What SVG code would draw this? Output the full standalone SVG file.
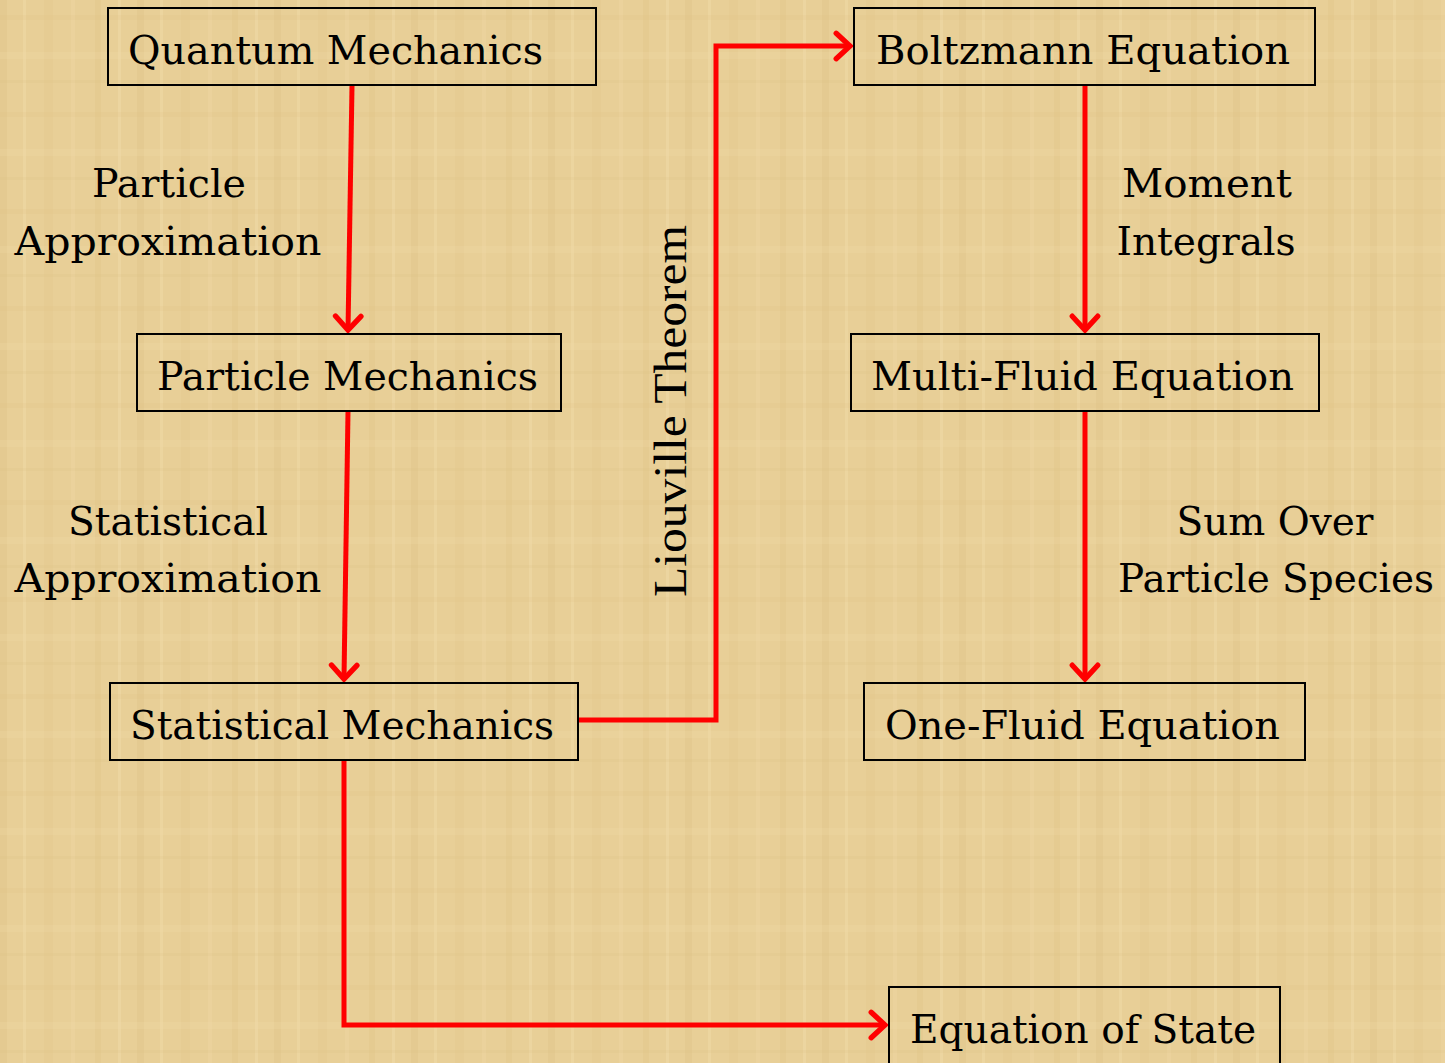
<svg xmlns="http://www.w3.org/2000/svg" width="1445" height="1063" viewBox="0 0 1445 1063">
<defs>
<pattern id="papyrus" width="137" height="97" patternUnits="userSpaceOnUse">
<rect width="137" height="97" fill="#E8CF97"/>
<rect x="0" y="0" width="7" height="97" fill="#D9BC80" opacity="0.25"/>
<rect x="23" y="0" width="3" height="97" fill="#F3DEAE" opacity="0.35"/>
<rect x="44" y="0" width="9" height="97" fill="#DCC083" opacity="0.2"/>
<rect x="71" y="0" width="4" height="97" fill="#F2DCAA" opacity="0.3"/>
<rect x="95" y="0" width="6" height="97" fill="#D6B87A" opacity="0.2"/>
<rect x="118" y="0" width="3" height="97" fill="#F4E0B2" opacity="0.35"/>
<rect x="0" y="15" width="137" height="5" fill="#DABD81" opacity="0.15"/>
<rect x="0" y="52" width="137" height="7" fill="#F1DBA8" opacity="0.22"/>
<rect x="0" y="80" width="137" height="3" fill="#D8BA7C" opacity="0.15"/>
</pattern>
<marker id="arrow" markerWidth="34" markerHeight="34" refX="0" refY="0" viewBox="-18 -16 22 32" orient="auto" markerUnits="userSpaceOnUse">
<path d="M-13,-12 L0,0 L-13,12" fill="none" stroke="#FF0000" stroke-width="5" stroke-linecap="round" stroke-linejoin="miter"/>
</marker>
<style>
.box{fill:none;stroke:#000;stroke-width:2}
.nt{font-family:"DejaVu Serif","Liberation Serif",serif;font-size:40px;fill:#000}
.lb{font-family:"DejaVu Serif","Liberation Serif",serif;font-size:40px;fill:#000;text-anchor:middle}
.conn{fill:none;stroke:#FF0000;stroke-width:5;marker-end:url(#arrow)}
</style>
</defs>
<rect width="1445" height="1063" fill="url(#papyrus)"/>

<g id="connectors">
<path class="conn" d="M352,86 L348,330"/>
<path class="conn" d="M348,411 L344,679"/>
<path class="conn" d="M579,720 L716,720 L716,46 L850,46"/>
<path class="conn" d="M1085,86 L1085,330"/>
<path class="conn" d="M1085,411 L1085,679"/>
<path class="conn" d="M344,760 L344,1025 L885,1025"/>
</g>

<g id="quantum-mechanics">
<rect class="box" x="108" y="8" width="488" height="77"/>
<text class="nt" x="128" y="64" textLength="415" lengthAdjust="spacingAndGlyphs">Quantum Mechanics</text>
</g>
<g id="particle-mechanics">
<rect class="box" x="137" y="334" width="424" height="77"/>
<text class="nt" x="157" y="390" textLength="381" lengthAdjust="spacingAndGlyphs">Particle Mechanics</text>
</g>
<g id="statistical-mechanics">
<rect class="box" x="110" y="683" width="468" height="77"/>
<text class="nt" x="130" y="739" textLength="424" lengthAdjust="spacingAndGlyphs">Statistical Mechanics</text>
</g>
<g id="boltzmann-equation">
<rect class="box" x="854" y="8" width="461" height="77"/>
<text class="nt" x="876" y="64" textLength="414" lengthAdjust="spacingAndGlyphs">Boltzmann Equation</text>
</g>
<g id="multi-fluid-equation">
<rect class="box" x="851" y="334" width="468" height="77"/>
<text class="nt" x="871" y="390" textLength="423" lengthAdjust="spacingAndGlyphs">Multi-Fluid Equation</text>
</g>
<g id="one-fluid-equation">
<rect class="box" x="864" y="683" width="441" height="77"/>
<text class="nt" x="885" y="739" textLength="395" lengthAdjust="spacingAndGlyphs">One-Fluid Equation</text>
</g>
<g id="equation-of-state">
<rect class="box" x="889" y="987" width="391" height="90"/>
<text class="nt" x="910" y="1043" textLength="346" lengthAdjust="spacingAndGlyphs">Equation of State</text>
</g>

<g id="labels">
<text class="lb" x="169" y="197" textLength="154" lengthAdjust="spacingAndGlyphs">Particle</text>
<text class="lb" x="168" y="255" textLength="307" lengthAdjust="spacingAndGlyphs">Approximation</text>
<text class="lb" x="168" y="535" textLength="200" lengthAdjust="spacingAndGlyphs">Statistical</text>
<text class="lb" x="168" y="592" textLength="307" lengthAdjust="spacingAndGlyphs">Approximation</text>
<text class="lb" x="1207" y="197" textLength="170" lengthAdjust="spacingAndGlyphs">Moment</text>
<text class="lb" x="1206" y="255" textLength="179" lengthAdjust="spacingAndGlyphs">Integrals</text>
<text class="lb" x="1275" y="535" textLength="197" lengthAdjust="spacingAndGlyphs">Sum Over</text>
<text class="lb" x="1276" y="592" textLength="316" lengthAdjust="spacingAndGlyphs">Particle Species</text>
<text transform="translate(686,411) rotate(-90)" font-family="'Liberation Serif',serif" font-size="46" text-anchor="middle" textLength="372" lengthAdjust="spacingAndGlyphs">Liouville Theorem</text>
</g>
</svg>
